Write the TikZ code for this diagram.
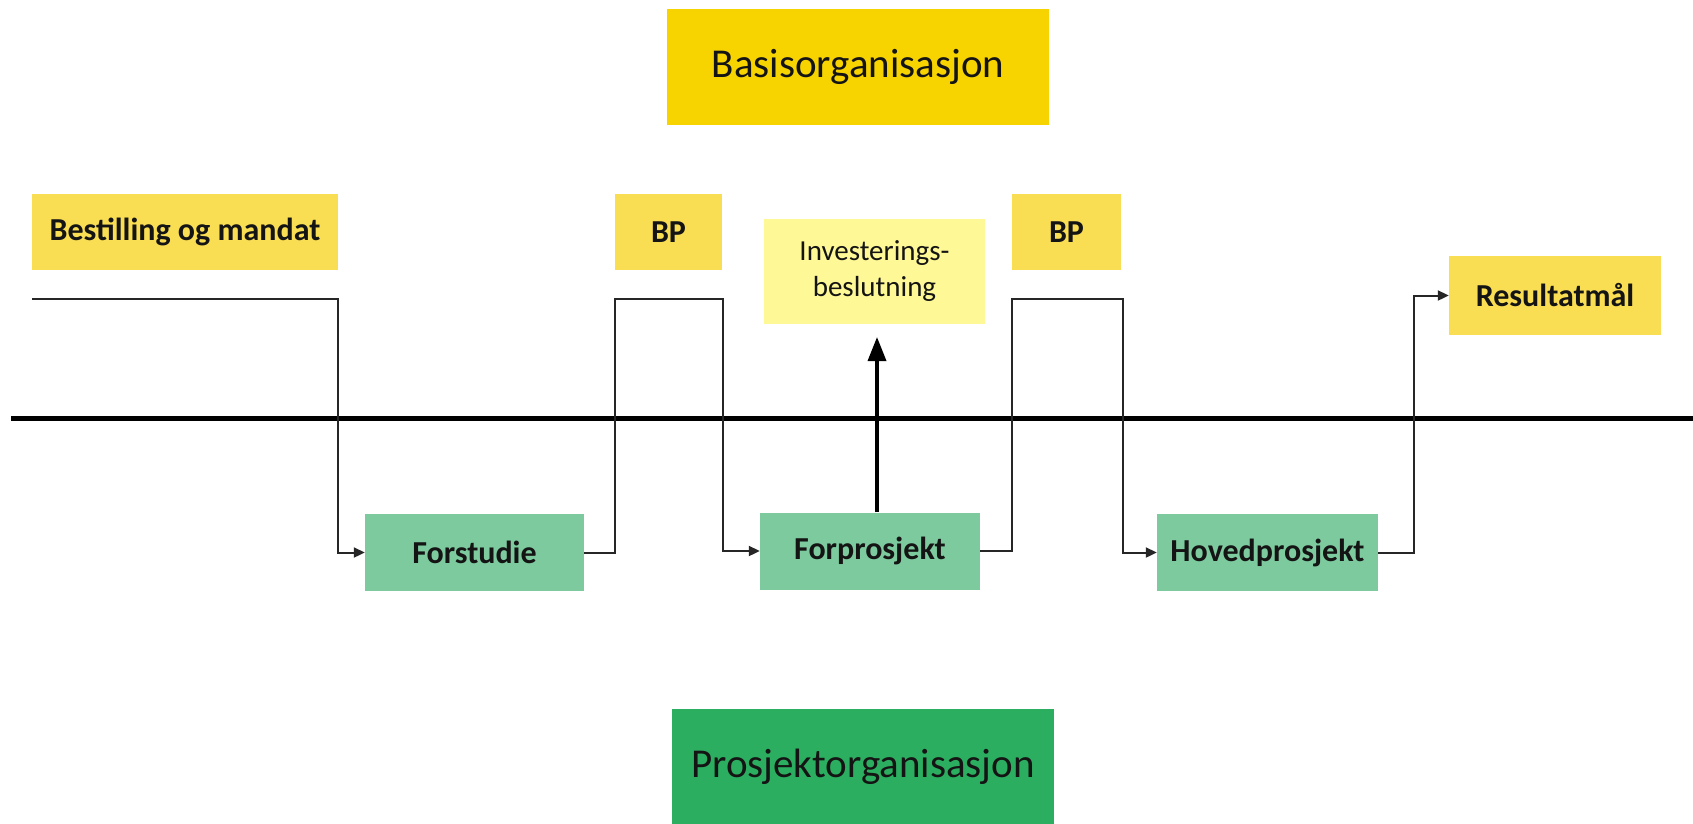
\documentclass[tikz,border=0pt]{standalone}
\usepackage{fontspec}
\setmainfont{Carlito}
\usetikzlibrary{arrows.meta}
\definecolor{ylab}{RGB}{249,221,82}
\definecolor{ybasis}{RGB}{247,211,0}
\definecolor{yinv}{RGB}{255,248,150}
\definecolor{gbox}{RGB}{124,202,158}
\definecolor{gproj}{RGB}{44,174,96}
\definecolor{txt}{RGB}{20,20,20}
\tikzset{
  lab/.style={fill=ylab, draw=none, inner sep=0pt, text=txt, font=\fontsize{32}{38}\selectfont\bfseries},
  phase/.style={fill=gbox, draw=none, inner sep=0pt, text=txt, font=\fontsize{32}{38}\selectfont\bfseries},
  bigbox/.style={draw=none, inner sep=0pt, text=txt, font=\fontsize{41}{48}\selectfont},
  conn/.style={line width=2pt, draw=black!85, -{Triangle[length=11pt,width=10pt]}},
  plain/.style={line width=2pt, draw=black!85},
  bigarrow/.style={line width=3.5pt, draw=black, -{Triangle[length=24pt,width=18pt]}},
  axis/.style={line width=5pt, draw=black},
}
\begin{document}
\begin{tikzpicture}[x=1pt,y=-1pt]
\useasboundingbox (0,0) rectangle (1693,823);
% big organisation boxes
\node[bigbox, fill=ybasis, minimum width=382pt, minimum height=116pt] (basis) at (858,67) {Basisorganisasjon};
\node[bigbox, fill=gproj, minimum width=382pt, minimum height=116pt] (prosjekt) at (863,767) {Prosjektorganisasjon};
% decision labels
\node[lab, minimum width=306pt, minimum height=76pt] (bestilling) at (185,232) {Bestilling og mandat};
\node[lab, minimum width=107pt, minimum height=76pt] (bp1) at (668.5,232) {BP};
\node[lab, minimum width=109pt, minimum height=76pt] (bp2) at (1066.5,232) {BP};
\node[lab, minimum width=212pt, minimum height=79pt] (resultat) at (1555,295.5) {Resultatmål};
\node[fill=yinv, draw=none, inner sep=0pt, text=txt, align=center, minimum width=221pt, minimum height=105pt,
      font=\fontsize{29}{36}\selectfont] (inv) at (874.5,271.5) {Investerings-\\beslutning};
% phases
\node[phase, minimum width=219pt, minimum height=77pt] (forstudie) at (474.5,552.5) {Forstudie};
\node[phase, minimum width=220pt, minimum height=77pt] (forprosjekt) at (870,551) {Forprosjekt};
\node[phase, minimum width=221pt, minimum height=77pt] (hoved) at (1267.5,552.5) {Hovedprosjekt};
% axis
\coordinate (axL) at (11,418);
\coordinate (axR) at (1693,418);
\draw[axis] (axL) -- (axR);
% connector corners
\coordinate (s0) at (32,299);
\coordinate (c0) at (338,299);
\coordinate (c1) at (615,299);
\coordinate (c2) at (723,299);
\coordinate (c3) at (1012,299);
\coordinate (c4) at (1123,299);
\coordinate (c5) at (1414,420);
\coordinate (tipI) at (877,337);
% connectors
\draw[conn] (s0) -- (c0) |- (forstudie.west);
\draw[conn] (forstudie.east) -| (c1) -- (c2) |- (forprosjekt.west);
\draw[conn] (forprosjekt.east) -| (c3) -- (c4) |- (hoved.west);
\draw[conn] (hoved.east) -| (c5) |- (resultat.west);
\draw[bigarrow] (tipI |- forprosjekt.north) -- (tipI);
\end{tikzpicture}
\end{document}
